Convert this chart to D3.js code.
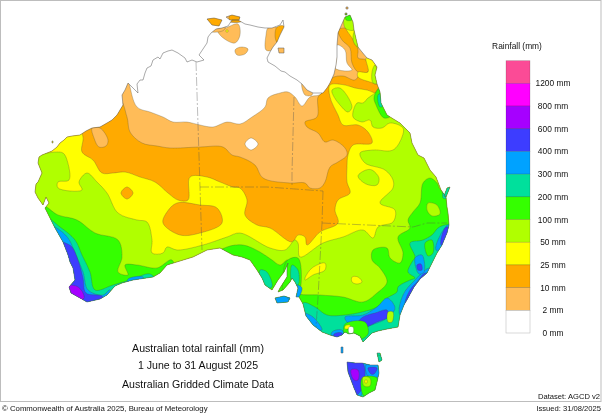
<!DOCTYPE html>
<html>
<head>
<meta charset="utf-8">
<script src="https://cdn.jsdelivr.net/npm/d3@7"></script>
<style>
  html, body { margin: 0; padding: 0; background: #fff; }
  svg { display: block; }
  text { font-family: "Liberation Sans", Arial, sans-serif; fill: #111; }
</style>
</head>
<body>
<script>
// legend classes, wettest first
const legendLabels = ["1200 mm", "800 mm", "600 mm", "400 mm", "300 mm", "200 mm", "100 mm", "50 mm", "25 mm", "10 mm", "2 mm", "0 mm"];
const legendColors = ["#fb4c96", "#ff00ff", "#a600ff", "#3c3cff", "#00a2ff", "#00e09c", "#36ff00", "#b0ff00", "#ffff00", "#ffaa00", "#ffbc58", "#ffffff"];
const legendMm = [1200, 800, 600, 400, 300, 200, 100, 50, 25, 10, 2, 0];

// digitised map outlines, in map grid units
const mainland = [[39,157],[42,155],[47,153],[52,151],[57,147],[60,143],[64,140],[67,137],[72,136],[80,135],[86,131],[92,128],[100,127],[107,123],[112,120],[117,115],[123,105],[122,95],[125,90],[128,83],[133,88],[138,93],[137,84],[140,80],[143,80],[145,73],[147,68],[151,66],[153,60],[158,57],[160,59],[163,53],[168,51],[172,50],[178,53],[185,58],[187,62],[192,60],[197,62],[204,60],[199,55],[203,49],[207,43],[208,37],[211,33],[216,29],[222,28],[228,26],[232,20],[238,20],[245,24],[250,25],[258,27],[265,28],[272,28],[280,25],[283,20],[284,27],[280,35],[277,42],[273,47],[270,52],[267,58],[268,62],[275,66],[281,71],[285,72],[290,76],[297,80],[302,84],[307,90],[313,93],[323,93],[327,88],[330,83],[334,74],[336,65],[337,57],[337,45],[338,33],[341,26],[345,17],[350,15],[353,22],[354,30],[358,47],[362,52],[367,58],[372,60],[377,67],[375,75],[377,84],[380,92],[381,103],[387,115],[395,120],[400,123],[405,128],[410,133],[412,143],[418,155],[424,158],[430,170],[436,177],[441,190],[446,197],[447,207],[448,213],[449,225],[447,233],[442,245],[437,253],[432,263],[427,273],[420,279],[414,287],[408,298],[404,305],[400,315],[398,327],[387,329],[378,331],[372,333],[367,338],[363,342],[360,336],[354,333],[349,334],[345,332],[342,335],[337,337],[330,335],[322,332],[313,325],[306,316],[303,304],[299,297],[296,297],[298,288],[295,282],[292,278],[290,282],[283,290],[278,292],[280,288],[287,277],[287,268],[288,263],[284,272],[278,280],[272,290],[265,285],[262,278],[257,270],[250,260],[242,257],[233,255],[220,248],[207,250],[193,257],[180,261],[167,265],[160,273],[153,277],[133,280],[122,283],[115,286],[107,295],[100,299],[87,302],[80,298],[71,293],[69,287],[75,280],[73,268],[70,262],[68,255],[63,242],[55,228],[50,218],[45,208],[49,203],[46,197],[43,205],[38,198],[35,192],[36,184],[38,182],[42,173],[38,163]];
const tasmania = [[347,362],[355,363],[362,363],[370,365],[378,365],[379,373],[377,382],[375,390],[369,393],[363,397],[357,395],[354,388],[351,380],[348,372]];
const islands = [
  [[207,19],[214,18],[222,20],[219,26],[212,25]],
  [[226,17],[232,15],[240,17],[239,20],[230,20]],
  [[278,48],[284,48],[284,53],[279,53]],
  [[341,347],[343,347],[343,353],[341,353]],
  [[377,353],[380,353],[382,360],[379,362]],
  [[275,298],[284,296],[290,298],[288,302],[277,303]],
  [[346,7],[348,7],[348,9],[346,9]],
  [[345,13],[347,13],[347,15],[345,15]],
  [[447,188],[450,187],[446,197],[444,196]],
  [[52,141],[53,141],[53,143],[52,143]]
];

// rainfall zones, each class paints over the drier one below it
const zone2 = [
  [[120,60],[128,80],[137,107],[150,112],[163,117],[173,122],[187,122],[200,125],[213,127],[227,122],[240,124],[252,117],[265,107],[268,98],[280,93],[288,92],[295,97],[302,106],[310,97],[322,93],[325,5],[602,5],[602,402],[0,402],[0,100]],
  [[217,29],[225,28],[238,24],[240,35],[235,43],[222,37]],
  [[205,15],[224,15],[224,30],[205,30]],
  [[226,14],[242,14],[242,21],[226,21]],
  [[268,28],[276,27],[277,42],[273,50],[266,50],[266,35]],
  [[277,46],[286,46],[286,55],[277,55]],
  [[235,50],[241,47],[248,49],[245,54],[237,55]],
  [[302,83],[312,88],[312,95],[305,95]]
];
const zone10 = [
  [[118,98],[127,117],[130,132],[142,143],[157,146],[170,148],[200,147],[223,147],[232,155],[240,157],[255,165],[263,178],[290,183],[305,183],[310,188],[320,188],[325,182],[330,167],[338,162],[347,155],[345,148],[333,140],[325,142],[318,133],[307,127],[305,122],[317,117],[318,97],[322,93],[332,78],[343,76],[355,80],[362,72],[378,78],[602,78],[602,402],[0,402],[0,135],[70,118]],
  [[338,30],[345,28],[352,32],[358,50],[358,58],[366,60],[368,72],[358,72],[352,63],[350,48],[342,40]],
  [[277,27],[284,26],[283,36],[277,42],[275,35]],
  [[205,15],[224,15],[224,26],[205,26]],
  [[230,14],[242,14],[242,21],[230,21]]
];
const zone25 = [
  [[78,128],[83,137],[82,152],[93,160],[102,173],[113,173],[125,172],[140,177],[155,182],[168,193],[178,200],[188,200],[190,177],[207,177],[220,182],[233,187],[240,188],[247,200],[245,215],[257,225],[270,228],[292,242],[298,235],[305,237],[307,245],[320,232],[338,223],[335,210],[338,200],[350,193],[347,182],[347,167],[348,155],[353,145],[372,143],[368,132],[358,125],[343,125],[338,115],[330,97],[330,85],[345,85],[355,88],[367,90],[377,93],[385,88],[602,88],[602,402],[0,402],[0,140]],
  [[346,28],[353,29],[360,45],[358,48],[352,38]],
  [[366,58],[372,60],[378,70],[378,84],[370,82],[358,77],[358,72],[368,72]],
  [[226,30],[228,30],[228,32],[226,32]]
];
const zone50 = [
  [[30,150],[47,153],[55,152],[63,153],[67,160],[69,180],[58,182],[58,188],[82,190],[79,182],[87,173],[97,182],[107,193],[118,213],[137,220],[147,222],[152,240],[152,253],[163,253],[167,247],[177,250],[203,245],[227,237],[240,233],[270,248],[285,250],[295,240],[298,243],[300,257],[323,243],[343,237],[363,230],[373,238],[378,227],[393,222],[395,210],[380,203],[393,188],[393,180],[385,170],[365,163],[360,153],[373,150],[393,150],[402,137],[403,128],[390,123],[382,128],[373,127],[370,120],[362,122],[353,117],[357,103],[363,103],[368,98],[375,93],[382,85],[602,85],[602,402],[0,402],[0,170]],
  [[332,90],[340,88],[352,107],[348,112],[340,105],[333,95]],
  [[345,14],[353,18],[354,30],[345,28]],
  [[355,30],[359,40],[358,47],[354,43],[353,37]],
  [[375,65],[378,83],[373,83],[372,72]],
  [[358,176],[366,170],[372,170],[379,178],[377,185],[366,184]]
];
const zone100 = [
  [[40,205],[58,215],[77,220],[95,233],[118,240],[122,257],[118,272],[128,275],[125,265],[137,265],[157,268],[172,260],[170,320],[40,320]],
  [[215,255],[227,247],[243,245],[260,252],[272,260],[280,265],[288,260],[290,300],[215,300]],
  [[286,262],[298,258],[301,285],[298,293],[320,295],[343,297],[363,302],[377,293],[387,282],[380,268],[372,260],[373,250],[387,248],[390,258],[400,263],[403,253],[398,237],[410,228],[408,220],[413,212],[420,203],[423,183],[430,178],[437,183],[441,190],[470,190],[470,350],[300,350]],
  [[374,97],[380,88],[392,115],[384,118],[376,105]],
  [[346,14],[352,14],[352,20],[346,20]]
];
const zone200 = [
  [[40,215],[60,227],[75,240],[82,255],[90,272],[95,290],[113,285],[133,279],[150,274],[158,285],[60,320],[30,300]],
  [[260,270],[267,272],[272,287],[263,287]],
  [[292,265],[298,270],[298,285],[292,283]],
  [[303,303],[315,307],[327,315],[345,315],[362,312],[377,307],[387,298],[397,292],[398,287],[410,280],[415,278],[408,272],[412,262],[415,257],[410,243],[423,240],[432,235],[438,228],[445,225],[470,225],[470,350],[300,350]],
  [[378,95],[383,93],[384,105],[380,107]],
  [[340,360],[390,360],[390,400],[340,400]],
  [[445,186],[452,186],[448,198],[443,198]]
];
const zone300 = [
  [[40,222],[55,227],[68,238],[75,253],[83,272],[88,290],[103,295],[110,290],[112,320],[40,320]],
  [[128,279],[143,277],[143,283],[128,284]],
  [[273,295],[292,295],[292,305],[273,305]],
  [[290,290],[297,285],[302,288],[297,299],[288,299]],
  [[300,312],[313,317],[322,330],[313,328]],
  [[332,332],[342,330],[344,340],[332,340]],
  [[345,317],[363,315],[377,307],[387,298],[395,308],[387,318],[377,323],[357,328],[347,322]],
  [[400,315],[403,295],[415,280],[430,268],[440,275],[415,320]],
  [[415,258],[422,255],[424,272],[419,274]],
  [[438,240],[448,225],[452,228],[445,250],[436,250]],
  [[340,345],[345,345],[345,355],[340,355]],
  [[345,360],[368,360],[372,376],[365,386],[358,400],[345,380]],
  [[366,365],[380,365],[380,376],[368,376]]
];
const zone400 = [
  [[50,238],[63,242],[72,247],[78,260],[83,278],[86,293],[103,297],[105,320],[50,320]],
  [[358,323],[363,317],[375,313],[387,310],[388,317],[377,322],[362,328]],
  [[405,305],[410,290],[417,282],[425,273],[430,275],[410,310]],
  [[417,265],[421,264],[422,270],[418,270]],
  [[446,227],[452,230],[448,245],[441,245]],
  [[340,358],[362,362],[365,377],[360,392],[354,396],[346,380]],
  [[368,368],[377,368],[374,374],[371,374]],
  [[334,334],[342,333],[342,340],[334,340]]
];
const zone600 = [
  [[62,286],[78,287],[84,298],[70,302]],
  [[407,305],[413,293],[416,297],[410,308]],
  [[351,370],[358,370],[358,380],[354,380]]
];
// drier pockets left inside wetter ground, painted last in this order
const pockets = [
  { mm: 2,  ring: [[92,128],[100,128],[108,140],[106,146],[99,147],[94,138]] },
  { mm: 10, ring: [[177,203],[200,205],[217,208],[222,223],[200,233],[180,235],[163,223],[167,212]] },
  { mm: 10, ring: [[121,193],[127,187],[133,193],[127,199]] },
  { mm: 25, ring: [[305,278],[312,268],[325,263],[325,270],[313,275],[305,280]] },
  { mm: 25, ring: [[352,277],[358,277],[362,282],[357,284],[352,282]] },
  { mm: 50, ring: [[428,203],[437,205],[440,214],[432,216],[427,210]] },
  { mm: 100, ring: [[425,243],[432,240],[433,253],[428,256]] },
  { mm: 100, ring: [[345,324],[365,322],[368,334],[358,340],[345,336]] },
  { mm: 50, ring: [[388,312],[393,312],[392,322],[388,322]] },
  { mm: 100, ring: [[362,378],[377,378],[376,392],[364,396]] },
  { mm: 50, ring: [[363,377],[370,378],[370,386],[364,386]] },
  { mm: 25, ring: [[365,380],[367,380],[367,383],[365,383]] },
  { mm: 25, ring: [[345,326],[350,325],[350,328],[345,329]] },
  { mm: 0, ring: [[337,45],[345,50],[347,63],[352,70],[335,68]] },
  { mm: 0, ring: [[349,327],[353,327],[353,333],[349,333]] },
  { mm: 0, ring: [[245,144],[251,138],[258,144],[251,150]] }
];
const zoneClasses = [[2, zone2], [10, zone10], [25, zone25], [50, zone50], [100, zone100], [200, zone200], [300, zone300], [400, zone400], [600, zone600]];

const stateBorders = [
  [[196,62],[200,187],[202,250]],
  [[200,187],[267,187],[323,191]],
  [[294,97],[292,173],[292,187]],
  [[323,191],[322,223],[318,298],[316,327]],
  [[322,223],[413,227],[427,223],[447,223]]
];

const width = 602, height = 413;
const mapX = d3.scaleLinear().domain([0, 602]).range([0, width]);
const mapY = d3.scaleLinear().domain([0, 413]).range([0, height]);
const rainColor = d3.scaleOrdinal().domain(legendMm).range(legendColors);

const svg = d3.select("body").append("svg")
    .attr("width", width)
    .attr("height", height);

const defs = svg.append("defs");
// the reference is a slightly soft scan
defs.append("filter").attr("id", "soft")
    .append("feGaussianBlur").attr("stdDeviation", 0.35);

const sharpLine = d3.line().x(d => mapX(d[0])).y(d => mapY(d[1])).curve(d3.curveLinearClosed);
const openLine = d3.line().x(d => mapX(d[0])).y(d => mapY(d[1]));
const smoothLine = d3.line().x(d => mapX(d[0])).y(d => mapY(d[1])).curve(d3.curveCatmullRomClosed.alpha(0.5));

const landRings = [mainland, tasmania].concat(islands);
defs.append("clipPath").attr("id", "landClip")
    .selectAll("path").data(landRings).join("path")
    .attr("d", sharpLine);

const root = svg.append("g").attr("filter", "url(#soft)");

// frame around the map panel
root.append("rect")
    .attr("x", 0.5).attr("y", 0.5)
    .attr("width", 600.5).attr("height", 401)
    .attr("fill", "#fff")
    .attr("stroke", "#bdbdbd");

const land = root.append("g").attr("clip-path", "url(#landClip)");
zoneClasses.forEach(([mm, rings]) => {
    land.append("g").selectAll("path").data(rings).join("path")
        .attr("d", smoothLine)
        .attr("fill", rainColor(mm))
        .attr("stroke", "#4d4d33")
        .attr("stroke-opacity", 0.55)
        .attr("stroke-width", 0.5);
});
land.append("g").selectAll("path").data(pockets).join("path")
    .attr("d", d => smoothLine(d.ring))
    .attr("fill", d => rainColor(d.mm))
    .attr("stroke", "#4d4d33")
    .attr("stroke-opacity", 0.55)
    .attr("stroke-width", 0.5);

// state borders
root.append("g").selectAll("path").data(stateBorders).join("path")
    .attr("d", openLine)
    .attr("fill", "none")
    .attr("stroke", "#555")
    .attr("stroke-opacity", 0.55)
    .attr("stroke-width", 0.7)
    .attr("stroke-dasharray", "9 2 2 2");

// coast
root.append("g").selectAll("path").data(landRings).join("path")
    .attr("d", sharpLine)
    .attr("fill", "none")
    .attr("stroke", "#555")
    .attr("stroke-width", 0.5);

// legend
const legendBand = d3.scaleBand().domain(legendLabels).range([60.7, 333]);
const legend = root.append("g");
legend.selectAll("rect").data(legendLabels).join("rect")
    .attr("x", 506)
    .attr("y", d => legendBand(d))
    .attr("width", 24)
    .attr("height", legendBand.bandwidth())
    .attr("fill", (d, i) => legendColors[i])
    .attr("stroke", "#000")
    .attr("stroke-opacity", 0.25)
    .attr("stroke-width", 0.6);
legend.selectAll("text").data(legendLabels).join("text")
    .attr("x", 553)
    .attr("y", d => legendBand(d) + legendBand.bandwidth() + 3)
    .attr("text-anchor", "middle")
    .attr("font-size", 8.4)
    .text(d => d);
legend.append("text")
    .attr("x", 517).attr("y", 48.5)
    .attr("text-anchor", "middle")
    .attr("font-size", 8.4)
    .text("Rainfall (mm)");

// titles
const titleLines = [["Australian total rainfall (mm)", 351.5], ["1 June to 31 August 2025", 369], ["Australian Gridded Climate Data", 388]];
root.append("g").selectAll("text").data(titleLines).join("text")
    .attr("x", 198)
    .attr("y", d => d[1])
    .attr("text-anchor", "middle")
    .attr("font-size", 10.6)
    .text(d => d[0]);

root.append("text").attr("x", 600).attr("y", 399)
    .attr("text-anchor", "end").attr("font-size", 7.6).text("Dataset: AGCD v2");
root.append("text").attr("x", 2).attr("y", 411)
    .attr("font-size", 7.8).text("© Commonwealth of Australia 2025, Bureau of Meteorology");
root.append("text").attr("x", 601).attr("y", 411)
    .attr("text-anchor", "end").attr("font-size", 7.6).text("Issued: 31/08/2025");
</script>
</body>
</html>
